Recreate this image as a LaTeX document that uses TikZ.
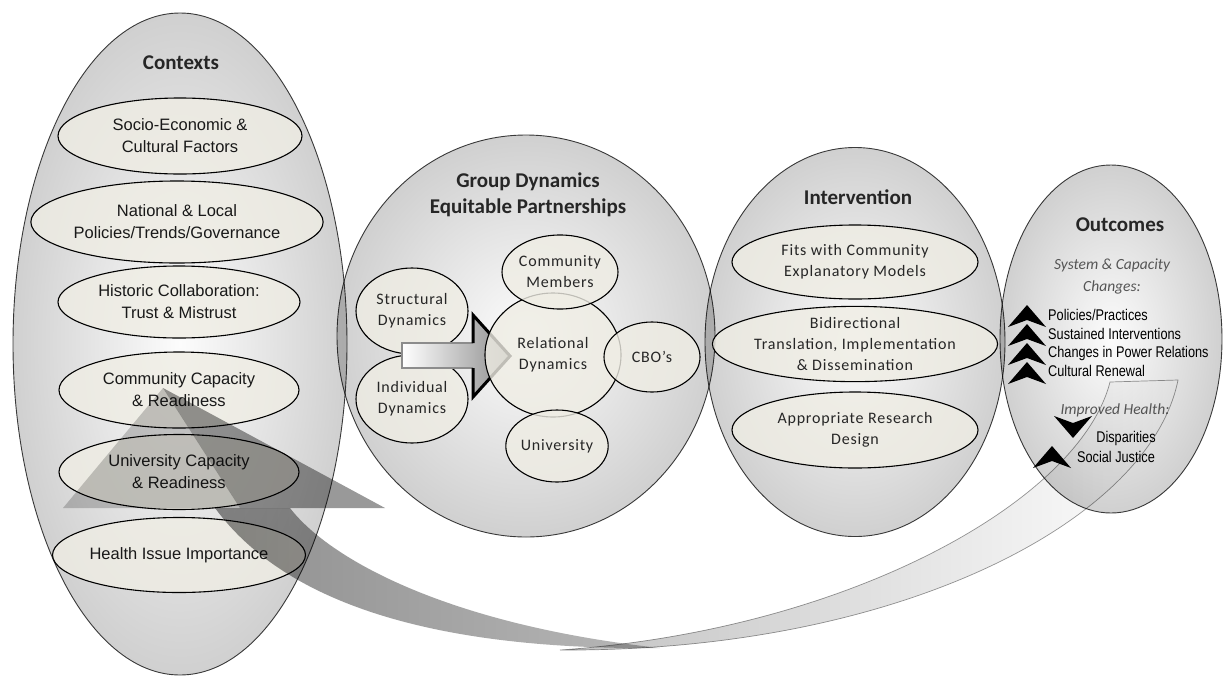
\documentclass[tikz,border=0pt]{standalone}
\usepackage{fontspec}
\setmainfont{Carlito}
\newfontfamily\spacedf[LetterSpace=5]{Carlito}
\newfontfamily\arialf{Liberation Sans}
\newfontfamily\narrowf[FakeStretch=0.82]{Liberation Sans}
\usetikzlibrary{shapes.geometric}
\definecolor{beige}{RGB}{239,237,228}
\definecolor{rimgray}{RGB}{208,208,208}
\definecolor{ctrgray}{RGB}{252,252,252}
\definecolor{txtgray}{RGB}{85,85,85}
\begin{document}
\begin{tikzpicture}[x=1pt,y=-1pt,
  bigell/.style={ellipse, draw=black!75, line width=0.9pt, inner sep=0pt, shading=radial, inner color=ctrgray, outer color=rimgray},
  inell/.style={ellipse, draw=black, line width=1.1pt, fill=beige, fill opacity=0.8, text opacity=1, inner sep=0pt, align=center},
  ctxtext/.style={font=\arialf\fontsize{16.5}{22}\selectfont, text=black!90},
  grptext/.style={font=\spacedf\fontsize{16}{21}\selectfont, text=black!85},
  title/.style={font=\fontsize{21}{26}\selectfont\bfseries, text=black!85, align=center},
  ital/.style={font=\fontsize{15.5}{22}\selectfont\itshape, text=txtgray, align=center},
  outlist/.style={font=\narrowf\fontsize{15.5}{18.7}\selectfont, align=left, inner sep=0pt},
  chev/.pic={\fill[black] (0,0) -- (19,22) -- (0,15) -- (-19,22) -- cycle;}
]
\useasboundingbox (0,0) rectangle (1223,675);
\fill[white] (0,0) rectangle (1223,675);

% big containers
\begin{scope}[blend mode=multiply]
\node[bigell, minimum width=334pt, minimum height=662pt] (ctx) at (180,344) {};
\node[bigell, minimum width=378pt, minimum height=402pt] (grp) at (526,336) {};
\node[bigell, minimum width=300pt, minimum height=389pt] (int) at (855,342) {};
\node[bigell, minimum width=222pt, minimum height=348pt] (out) at (1111,339) {};
\end{scope}

% titles
\node[title] (tctx) at (181,63) {Contexts};
\node[title] (tgrp) at (528,195) {Group Dynamics\\Equitable Partnerships};
\node[title] (tint) at (858,197) {Intervention};
\node[title] (tout) at (1120,225) {Outcomes};

% contexts
\node[inell, ctxtext, minimum width=244pt, minimum height=76pt] (c1) at (180,136) {Socio-Economic \&\\Cultural Factors};
\node[inell, ctxtext, minimum width=234pt, minimum height=82pt] (c2) at (177,222) {National \& Local\\Policies/Trends/Governance};
\node[inell, ctxtext, minimum width=242pt, minimum height=72pt] (c3) at (179,302) {Historic Collaboration:\\Trust \& Mistrust};
\node[inell, ctxtext, minimum width=240pt, minimum height=76pt] (c4) at (179,390) {Community Capacity\\\& Readiness};
\node[inell, ctxtext, minimum width=240pt, minimum height=75pt] (c5) at (179,472) {University Capacity\\\& Readiness};
\node[inell, ctxtext, minimum width=240pt, minimum height=75pt] (c6) at (179,555) {Health Issue Importance};

% group dynamics
\node[inell, grptext, minimum width=112pt, minimum height=86pt] (str) at (412,311) {Structural\\Dynamics};
\node[inell, grptext, minimum width=112pt, minimum height=88pt] (ind) at (412,399) {Individual\\Dynamics};
\shade[left color=white, right color=black!45] (402,343) -- (473,343) -- (473,315) -- (510,356) -- (473,397) -- (473,368) -- (402,368) -- cycle;
\draw[black!45, line width=2.5pt] (473,343) -- (402,343) -- (402,368) -- (473,368);
\draw[black, line width=3pt, line join=miter] (473,343) -- (473,315) -- (510,356) -- (473,397) -- (473,368);
\node[inell, grptext, minimum width=136pt, minimum height=124pt] (rel) at (553,355) {Relational\\Dynamics};
\node[inell, grptext, minimum width=110pt, minimum height=74pt] (cm) at (560,272) {Community\\Members};
\node[inell, grptext, minimum width=96pt, minimum height=70pt] (cbo) at (652,357) {CBO’s};
\node[inell, grptext, minimum width=96pt, minimum height=72pt] (uni) at (557,446) {University};

% intervention
\node[inell, grptext, minimum width=246pt, minimum height=74pt] (i1) at (855,262) {Fits with Community\\Explanatory Models};
\node[inell, grptext, minimum width=246pt, minimum height=74pt] (i2) at (855,344) {Bidirectional\\Translation, Implementation\\\& Dissemination};
\node[inell, grptext, minimum width=246pt, minimum height=76pt] (i3) at (855,430) {Appropriate Research\\Design};

% outcomes
\node[ital] (sys) at (1112,276) {System \& Capacity\\Changes:};
\node[outlist, anchor=west] (lst) at (1048,343) {Policies/Practices\\Sustained Interventions\\Changes in Power Relations\\Cultural Renewal};
\pic at (1027,305) {chev};
\pic at (1027,324) {chev};
\pic at (1027,343) {chev};
\pic at (1027,362) {chev};
\node[ital] (imp) at (1115,410) {Improved Health:};
\pic[rotate=180] at (1073,438) {chev};
\node[outlist] (disp) at (1126,438) {Disparities};
\pic at (1052,446) {chev};
\node[outlist] (soc) at (1116,457) {Social Justice};

% big feedback arrow
\coordinate (tailA) at (1110,382);
\coordinate (tailB) at (1178,380);
\coordinate (twist) at (560,650);
\coordinate (tip) at (63,508);
\begin{scope}[blend mode=multiply]
\shadedraw[left color=black!24, right color=white, draw=black!40, line width=0.7pt]
  (tailA) -- (tailB) .. controls (1150,520) and (900,652) .. (twist) .. controls (850,630) and (1080,500) .. (tailA) -- cycle;
\shade[left color=black!44, right color=black!28]
  (215,508) -- (290,508) .. controls (330,560) and (450,625) .. (660,648) .. controls (450,650) and (290,610) .. (215,508) -- cycle;
\fill[black!20] (tip) -- (163,388) -- (240,508) -- cycle;
\fill[black!40] (240,508) -- (163,388) -- (385,508) -- cycle;
\end{scope}
\end{tikzpicture}
\end{document}
